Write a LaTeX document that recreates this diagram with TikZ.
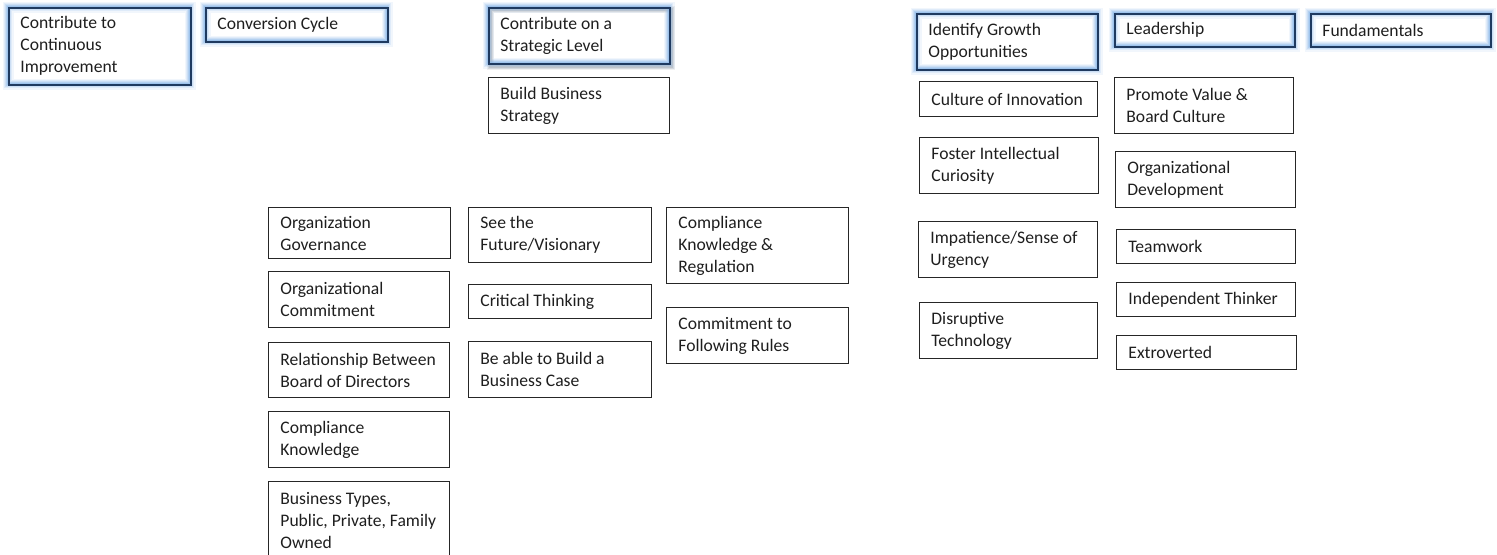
\documentclass[tikz,border=0pt]{standalone}
\usepackage{fontspec}
\setmainfont{Carlito}
\definecolor{navy}{HTML}{1F3A60}
\definecolor{glowblue}{HTML}{8DB8E8}
\definecolor{inktext}{HTML}{1E1E1E}
\tikzset{
  plainbox/.style={draw=black!85, line width=0.7pt, rectangle, inner sep=0pt, anchor=north west},
  headbox/.style={draw=navy, line width=0.75pt, rectangle, inner sep=0pt, anchor=north west},
  boxtext/.style={anchor=west, inner sep=0pt, align=left, text=inktext,
    font=\fontsize{8.8}{11}\selectfont},
}
% #1 style, #2 name, #3-#6 corners in pixel units (x1,y1,x2,y2), #7 text
\newcommand\skillbox[7]{%
  \pgfmathsetmacro\boxw{(#5-#3)/2}%
  \pgfmathsetmacro\boxh{(#6-#4)/2}%
  \node[#1, minimum width=\boxw pt, minimum height=\boxh pt] (#2) at (#3,#4) {};
  \node[boxtext] (#2-t) at ([xshift=6pt]#2.west) {#7};}
% soft blue halo round a heading box
\newcommand\halo[4]{%
  \foreach \lw/\op in {11/0.12,8/0.18,6/0.25,4/0.38,2.5/0.55}{%
    \draw[glowblue, line width=\lw*0.5pt, opacity=\op] (#1,#2) rectangle (#3,#4);}}
\begin{document}
\begin{tikzpicture}[x=0.5pt,y=-0.5pt]
\useasboundingbox (0,0) rectangle (1497,554);
\clip (0,0) rectangle (1497,554);

% headings
\halo{8}{7}{190}{84}
\halo{205}{7}{387}{41}
\foreach \d/\op in {7/0.06,5/0.08,3/0.10}{%
  \draw[black, line width=\d*0.5pt, opacity=\op] (490,9) rectangle (671,66);}
\halo{488}{7}{669}{63}
\halo{916}{13}{1097}{69}
\halo{1114}{13}{1294}{46}
\halo{1310}{13}{1490}{46}

\skillbox{headbox}{improve}{8}{7}{190}{84}{Contribute to\\Continuous\\Improvement}
\skillbox{headbox}{cycle}{205}{7}{387}{41}{Conversion Cycle}
\skillbox{headbox}{strategic}{488}{7}{669}{63}{Contribute on a\\Strategic Level}
\skillbox{headbox}{growth}{916}{13}{1097}{69}{Identify Growth\\Opportunities}
\skillbox{headbox}{leader}{1114}{13}{1294}{46}{Leadership}
\skillbox{headbox}{fund}{1310}{13}{1490}{46}{Fundamentals}

% strategic column
\skillbox{plainbox}{bizstrat}{488}{77}{669}{133}{Build Business\\Strategy}

% left group
\skillbox{plainbox}{govern}{268}{207}{450}{258}{Organization\\Governance}
\skillbox{plainbox}{commit}{268}{271}{449}{327}{Organizational\\Commitment}
\skillbox{plainbox}{board}{268}{342}{449}{397}{Relationship Between\\Board of Directors}
\skillbox{plainbox}{compl}{268}{411}{449}{467}{Compliance\\Knowledge}
\skillbox{plainbox}{types}{268}{481}{449}{558}{Business Types,\\Public, Private, Family\\Owned}

\skillbox{plainbox}{future}{468}{207}{651}{262}{See the\\Future/Visionary}
\skillbox{plainbox}{critical}{468}{284}{651}{318}{Critical Thinking}
\skillbox{plainbox}{bizcase}{468}{341}{651}{397}{Be able to Build a\\Business Case}

\skillbox{plainbox}{regul}{666}{207}{848}{283}{Compliance\\Knowledge \&\\Regulation}
\skillbox{plainbox}{rules}{666}{307}{848}{363}{Commitment to\\Following Rules}

% growth column
\skillbox{plainbox}{innov}{919}{81}{1097}{116}{Culture of Innovation}
\skillbox{plainbox}{curious}{919}{137}{1098}{193}{Foster Intellectual\\Curiosity}
\skillbox{plainbox}{urgency}{918}{221}{1097}{277}{Impatience/Sense of\\Urgency}
\skillbox{plainbox}{disrupt}{919}{302}{1097}{358}{Disruptive\\Technology}

% leadership column
\skillbox{plainbox}{values}{1114}{77}{1293}{133}{Promote Value \&\\Board Culture}
\skillbox{plainbox}{orgdev}{1115}{151}{1295}{207}{Organizational\\Development}
\skillbox{plainbox}{team}{1116}{229}{1295}{263}{Teamwork}
\skillbox{plainbox}{indep}{1116}{282}{1295}{316}{Independent Thinker}
\skillbox{plainbox}{extro}{1116}{335}{1296}{369}{Extroverted}
\end{tikzpicture}
\end{document}
